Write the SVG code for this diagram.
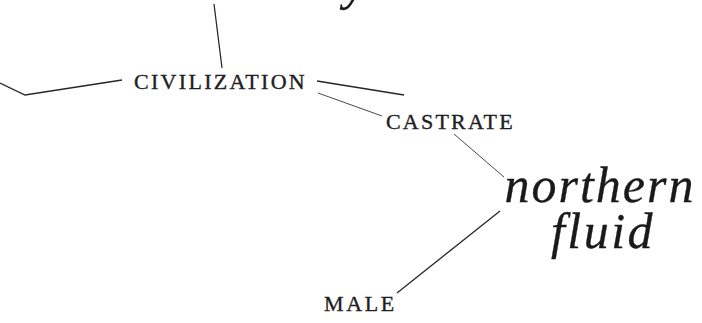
<svg xmlns="http://www.w3.org/2000/svg" width="702" height="323" viewBox="0 0 702 323">
<style>
.cap{font-family:"Liberation Serif","DejaVu Serif",serif;fill:#1e1e1e;stroke:#1e1e1e;stroke-width:0.35;font-size:22px;}
.it{font-family:"Liberation Serif","DejaVu Serif",serif;font-style:italic;fill:#1a1a1a;stroke:#1a1a1a;stroke-width:0.3;font-size:50px;}
.ln{stroke:#262626;fill:none;stroke-width:1.3;}
.thin{stroke:#333;fill:none;stroke-width:0.9;}
</style>
<rect width="702" height="323" fill="#ffffff"/>
<g id="connectors">
<line class="ln" x1="214" y1="4" x2="222" y2="68"/>
<polyline class="ln" points="0,83 25,95 122,80"/>
<line class="ln" x1="317" y1="81" x2="404" y2="95"/>
<line class="thin" x1="318" y1="93" x2="382" y2="116"/>
<line class="thin" x1="454" y1="134" x2="504" y2="177"/>
<line class="ln" x1="397" y1="293" x2="500" y2="211"/>
</g>
<g id="node-top">
<text class="it" x="272" y="-1" text-anchor="middle" letter-spacing="1.5">sexuality</text>
</g>
<g id="node-civilization">
<text class="cap" x="134" y="89" letter-spacing="2.3">CIVILIZATION</text>
</g>
<g id="node-castrate">
<text class="cap" x="386" y="129" letter-spacing="2.2">CASTRATE</text>
</g>
<g id="node-northern-fluid">
<text class="it" x="600" y="202" text-anchor="middle" letter-spacing="2">northern</text>
<text class="it" x="603" y="248" text-anchor="middle" letter-spacing="2.5">fluid</text>
</g>
<g id="node-male">
<text class="cap" x="324" y="311" letter-spacing="2.6">MALE</text>
</g>
</svg>
